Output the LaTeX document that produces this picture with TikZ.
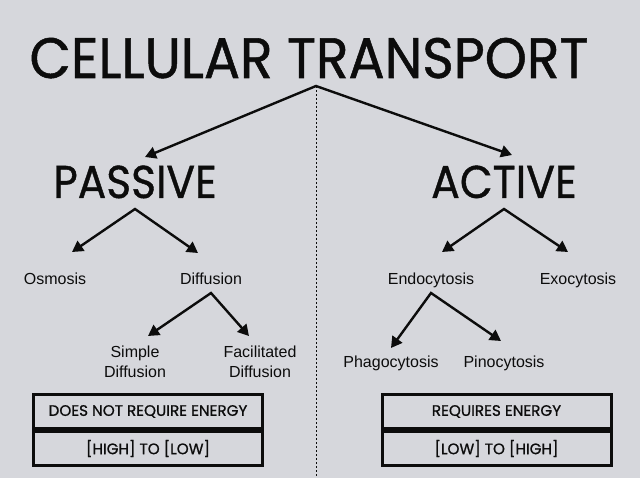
\documentclass[tikz,border=0pt]{standalone}
\usepackage{fontspec}
\setmainfont{Liberation Sans}
\newfontfamily\futura[FakeBold=0.9]{Poppins}
\usepackage{tikz}
\usetikzlibrary{
  arrows.meta,
  positioning
}
\definecolor{paper}{RGB}{214,215,220}
\definecolor{ink}{RGB}{12,12,12}
\tikzset{
  heading/.style={anchor=base,inner sep=0pt,text=ink},
  label/.style={anchor=base,inner sep=0pt,text=ink,font=\fontsize{16}{20}\selectfont},
  branch/.style={draw=ink,line width=2.4pt,line join=miter,
    {Triangle[length=11pt,width=12pt]}-{Triangle[length=11pt,width=12pt]}},
  rowbox/.style={draw=ink,line width=3pt,minimum width=229pt,minimum height=34pt,
    inner sep=0pt,text=ink,font=\futura\fontsize{15.2}{15.2}\selectfont}
}
\newcommand{\enbox}[5]{%
  \node[rowbox] (#1top) at (#2,#3) {#4};%
  \node[rowbox,anchor=north] (#1bot) at (#1top.south) {#5};%
}

\begin{document}
\begin{tikzpicture}[x=1pt,y=-1pt]

  \fill[paper] (0,0) rectangle (640,478);
  \useasboundingbox (0,0) rectangle (640,478);

  % headings
  \node[heading,font=\futura\fontsize{57}{57}\selectfont] (title) at (309,78)
    {\scalebox{0.94}[1]{CELLULAR TRANSPORT}};
  \node[heading,font=\futura\fontsize{46}{46}\selectfont] (passive) at (135,198)
    {\scalebox{0.92}[1]{PASSIVE}};
  \node[heading,font=\futura\fontsize{46}{46}\selectfont] (active) at (504,198)
    {\scalebox{0.925}[1]{ACTIVE}};

  % split points and arrow ends
  \coordinate (top) at (316,86);
  \coordinate (foot) at (316,478);
  \coordinate (topL) at (145,157);
  \coordinate (topR) at (512,155);
  \coordinate (pas) at (135,209);
  \coordinate (pasL) at (72,252);
  \coordinate (pasR) at (198,253);
  \coordinate (act) at (504,209);
  \coordinate (actL) at (442,252);
  \coordinate (actR) at (568,252);
  \coordinate (dif) at (211,293);
  \coordinate (difL) at (148,336);
  \coordinate (difR) at (249,336);
  \coordinate (endo) at (431,293);
  \coordinate (endoL) at (391,348);
  \coordinate (endoR) at (501,341);

  \draw[ink,line width=0.6pt,dash pattern=on 2pt off 2pt] (top) -- (foot);

  \draw[branch] (topL) -- (top) -- (topR);
  \draw[branch] (pasL) -- (pas) -- (pasR);
  \draw[branch] (actL) -- (act) -- (actR);
  \draw[branch] (difL) -- (dif) -- (difR);
  \draw[branch] (endoL) -- (endo) -- (endoR);

  % passive side
  \node[label] (osmosis) at (55,285) {Osmosis};
  \node[label] (diffusion) at (211,285) {Diffusion};
  \node[label,anchor=center,align=center] (simple) at (135,362) {Simple\\Diffusion};
  \node[label,anchor=center,align=center] (facil) at (260,362) {Facilitated\\Diffusion};

  % active side
  \node[label] (endocyt) at (431,285) {Endocytosis};
  \node[label] (exocyt) at (578,285) {Exocytosis};
  \node[label] (phago) at (391,367) {Phagocytosis};
  \node[label] (pino) at (504,367) {Pinocytosis};

  % energy tables
  \enbox{pasbox}{148}{411.5}{DOES NOT REQUIRE ENERGY}{[HIGH] TO [LOW]}
  \enbox{actbox}{496.5}{411.5}{REQUIRES ENERGY}{[LOW] TO [HIGH]}

\end{tikzpicture}
\end{document}
